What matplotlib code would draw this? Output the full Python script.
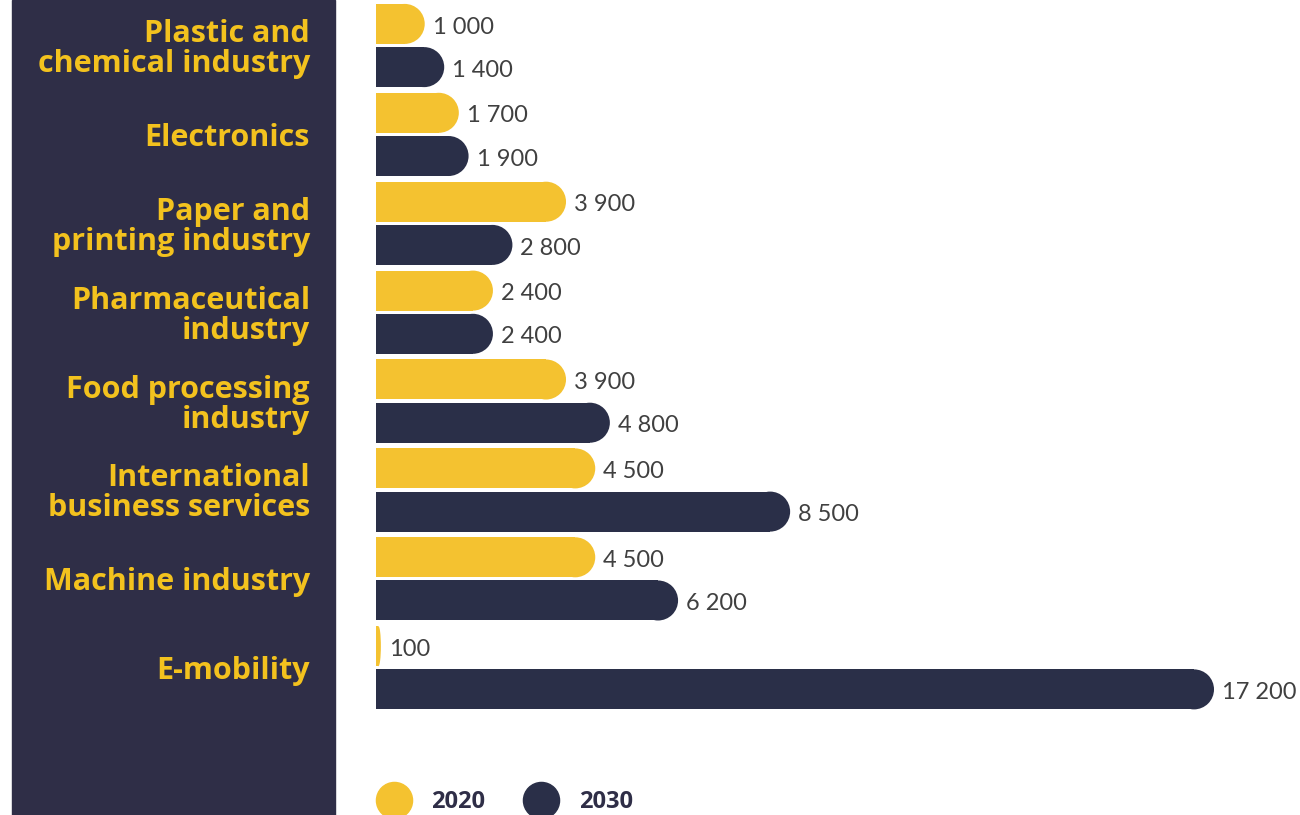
import matplotlib
matplotlib.use('Agg')
import matplotlib.pyplot as plt
from matplotlib.patches import Ellipse, Rectangle
from matplotlib.lines import Line2D

# data
categories = ['Plastic and\nchemical industry', 'Electronics', 'Paper and\nprinting industry',
              'Pharmaceutical\nindustry', 'Food processing\nindustry',
              'International\nbusiness services', 'Machine industry', 'E-mobility']
values_2020 = [1000, 1700, 3900, 2400, 3900, 4500, 4500, 100]
values_2030 = [1400, 1900, 2800, 2400, 4800, 8500, 6200, 17200]
years = ['2020', '2030']

yellow = '#F4C230'
navy = '#2A2F48'
panel = '#2F2E47'
label_yellow = '#F3C21E'

W, H = 1300, 815
fig = plt.figure(figsize=(W / 100, H / 100), dpi=100)
fig.patches.append(Rectangle((12 / W, 0), 323 / W, 1, transform=fig.transFigure,
                             color=panel, zorder=-5))

ax = fig.add_axes([376 / W, 0, 924 / W, 1])
ax.set_zorder(1)
xmax = 18965
ax.set_xlim(0, xmax)
ax.set_ylim(8.656, -0.512)
for s in ax.spines.values():
    s.set_visible(False)
ax.set_xticks([])
ax.patch.set_alpha(0)

bar_h = 0.45
off = 0.243
rx = 20 * xmax / 924
gap = 8 * xmax / 924


def rounded_bars(ys, vals, color):
    for yi, v in zip(ys, vals):
        r = min(rx, v / 2)
        ax.barh(yi, v - r, height=bar_h, color=color, linewidth=0)
        ax.add_patch(Ellipse((v - r, yi), 2 * r, bar_h, color=color, linewidth=0))
        ax.text(v + gap, yi + 0.035, f'{v:,}'.replace(',', ' '), va='center', ha='left',
                fontsize=17, color='#404040', family='Lato', fontweight='normal')


idx = list(range(len(categories)))
rounded_bars([i - off for i in idx], values_2020, yellow)
rounded_bars([i + off for i in idx], values_2030, navy)

ax.set_yticks(idx)
ax.set_yticklabels(categories, fontsize=22, fontweight='bold', family='Open Sans',
                   color=label_yellow, linespacing=1.0)
ax.tick_params(axis='y', length=0, pad=66 * 0.72)

handles = [Line2D([], [], marker='o', ls='', ms=26, mfc=yellow, mec=yellow),
           Line2D([], [], marker='o', ls='', ms=26, mfc=navy, mec=navy)]
leg = fig.legend(handles, years, loc='center left', bbox_to_anchor=(376 / W, 1 - 802 / H),
                 ncol=2, frameon=False, borderpad=0, borderaxespad=0, handlelength=1.5,
                 handletextpad=0.85, columnspacing=1.6,
                 prop={'family': 'Open Sans', 'weight': 'bold', 'size': 17})
for t in leg.get_texts():
    t.set_color(panel)

fig.savefig('out.png', dpi=100)
